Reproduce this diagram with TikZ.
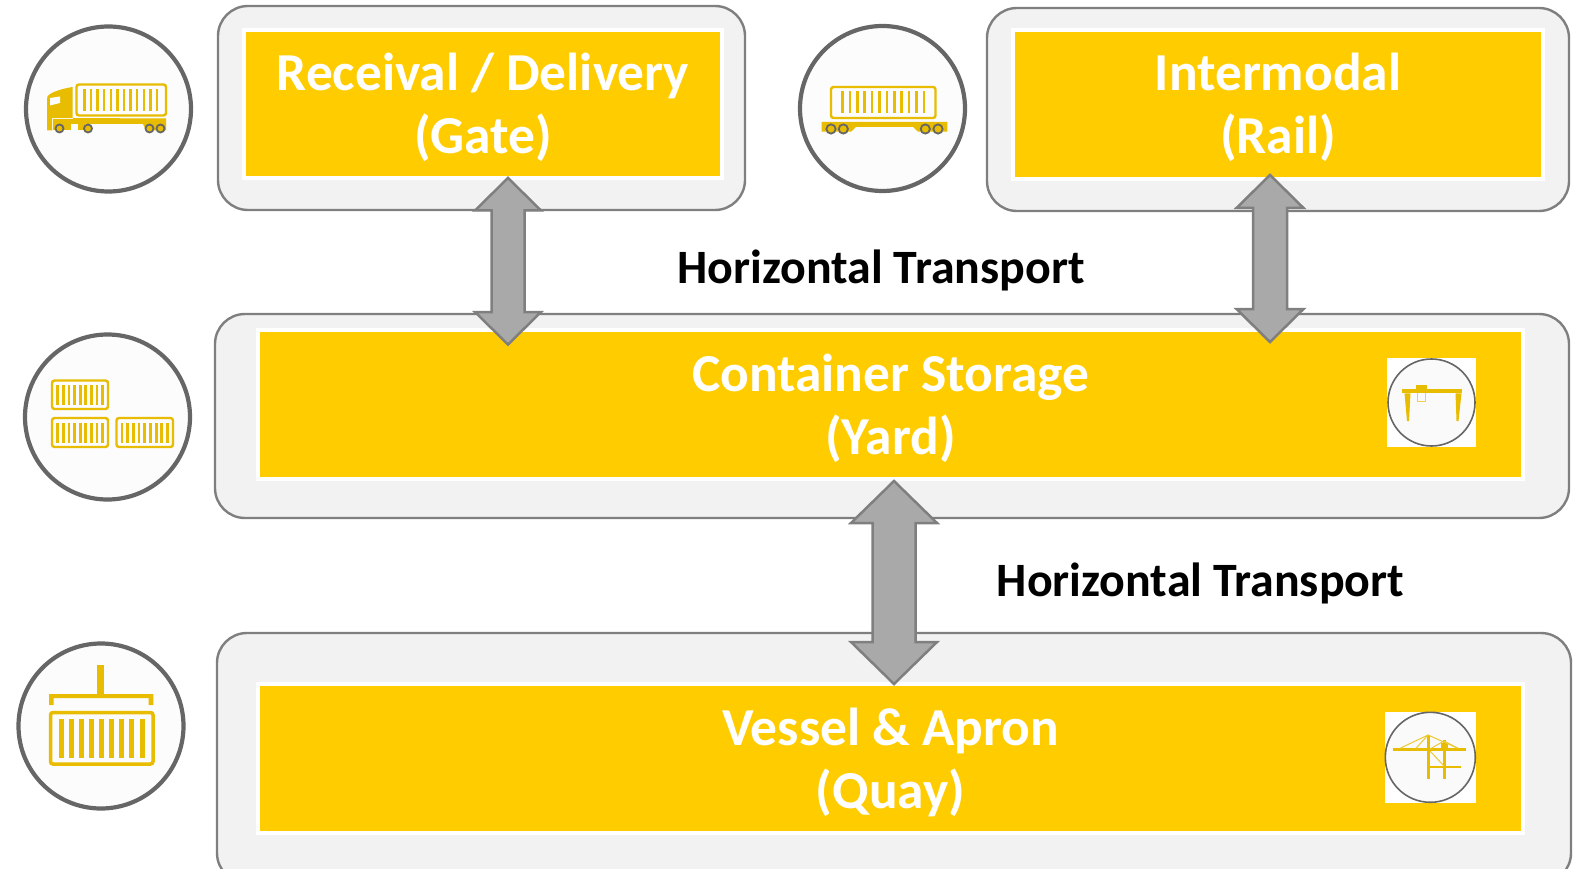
\documentclass[tikz,border=0pt]{standalone}
\usepackage{fontspec}
\setmainfont{Carlito}
\usetikzlibrary{calc}
\definecolor{ylw}{HTML}{FFCC00}
\definecolor{icony}{HTML}{E8BC00}
\definecolor{ringc}{HTML}{666666}
\definecolor{outerc}{HTML}{7F7F7F}
\definecolor{outerf}{HTML}{F2F2F2}
\definecolor{arrowf}{HTML}{A9A9A9}
\newcommand{\contbox}[9]{% x1 y1 x2 y2 n firstbar lastbar inset barw
  \draw[icony,line width=\contlw,rounded corners=2.5pt] (#1,#2) rectangle (#3,#4);
  \pgfmathsetmacro{\cstep}{(#7-#6)/(#5-1)}
  \foreach \ci in {1,...,#5}{
    \pgfmathsetmacro{\cx}{#6+(\ci-1)*\cstep}
    \fill[icony] (\cx-#9/2,#2+#8) rectangle (\cx+#9/2,#4-#8);
  }}
\newcommand{\contlw}{2.4pt}
\newcommand{\boxline}[1]{\raisebox{-18pt}[0pt][0pt]{#1}}
\tikzset{
  x=1pt,y=-1pt,
  outerbox/.style={draw=outerc,fill=outerf,line width=2.4pt,rounded corners=30pt,inner sep=0pt},
  yellowbox/.style={draw=white,fill=ylw,line width=4pt,inner sep=0pt,text=white,align=center,
    font=\fontsize{53.4}{63}\selectfont\bfseries},
  ring/.style={draw=ringc,fill=white!99!black,line width=4.2pt,circle,inner sep=0pt,minimum size=165pt},
  miniring/.style={draw=ringc,fill=white!98!black,line width=1.6pt,circle,inner sep=0pt},
  label/.style={text=black,inner sep=0pt,font=\fontsize{47.9}{54}\selectfont\bfseries},
  wheel/.style={draw=ringc,fill=icony,line width=1.8pt},
  bigarrow/.style n args={3}{draw=outerc,fill=arrowf,line width=2.5pt,miter limit=10,
    to path={let \p1=(\tikztostart),\p2=(\tikztotarget) in
      (\x1,\y1) -- (\x1+#1,\y1-#3) -- (\x1+#2,\y1-#3) -- (\x1+#2,\y2+#3) -- (\x1+#1,\y2+#3)
      -- (\x2,\y2) -- (\x1-#1,\y2+#3) -- (\x1-#2,\y2+#3) -- (\x1-#2,\y1-#3) -- (\x1-#1,\y1-#3) -- cycle}},
}
\begin{document}
\begin{tikzpicture}
\useasboundingbox (0,0) rectangle (1575,869);
\clip (0,0) rectangle (1575,869);
% outer panels
\node[outerbox,minimum width=527pt,minimum height=204pt] (gateO) at (481.5,108) {};
\node[outerbox,minimum width=582pt,minimum height=203pt] (railO) at (1278,109.5) {};
\node[outerbox,minimum width=1354pt,minimum height=204pt] (yardO) at (892,416) {};
\node[outerbox,minimum width=1354pt,minimum height=250pt] (quayO) at (894,758) {};
% yellow boxes
\node[yellowbox,minimum width=478pt,minimum height=148pt] (gate) at (483,104) {\boxline{Receival / Delivery}\\\boxline{(Gate)}};
\node[yellowbox,minimum width=529.5pt,minimum height=149pt] (rail) at (1278,104.5) {\boxline{Intermodal}\\\boxline{(Rail)}};
\node[yellowbox,minimum width=1265pt,minimum height=148.5pt] (yard) at (890.5,404.7) {\boxline{Container Storage}\\\boxline{(Yard)}};
\node[yellowbox,minimum width=1265pt,minimum height=149pt] (quay) at (890.5,758.5) {\boxline{Vessel \& Apron}\\\boxline{(Quay)}};
% double arrows
\coordinate (a1t) at (508,178); \coordinate (a1b) at (508,344.5);
\coordinate (a2t) at (1270,175); \coordinate (a2b) at (1270,342);
\coordinate (a3t) at (894,481); \coordinate (a3b) at (894,684);
\draw[bigarrow={33pt}{16.5pt}{32.5pt}] (a1t) to (a1b);
\draw[bigarrow={33.5pt}{17pt}{33pt}] (a2t) to (a2b);
\draw[bigarrow={43pt}{21.5pt}{42pt}] (a3t) to (a3b);
% labels
\node[label] (ht1) at (881,270) {Horizontal Transport};
\node[label] (ht2) at (1200.5,583.5) {Horizontal Transport};
% rings
\node[ring] (r1) at (108.5,109) {};
\node[ring] (r2) at (882.5,108.5) {};
\node[ring] (r3) at (107.5,417) {};
\node[ring] (r4) at (101,726) {};
% truck
\contbox{76.5}{84.5}{166}{115.5}{12}{84.5}{157}{4.5}{2.4}
\fill[icony] (47,130.5) -- (47,99) .. controls (47,95) and (50,94) .. (54,92) .. controls (60,89.5) and (66,88) .. (72.7,87) -- (72.7,118) -- (166,118.5) -- (166,124) -- (52.5,124) -- (52.5,130.5) -- cycle;
\fill[icony] (143,124) -- (166,124) -- (166,130.5) -- (146,130.5) -- cycle;
\fill[icony] (52,124) -- (71,124) -- (71,130.5) -- (52,130.5) -- cycle;
\fill[icony] (78,124) -- (85,124) -- (85,130.5) -- (78,130.5) -- cycle;
\draw[white!85!icony,line width=.8pt] (52.5,130) -- (52.5,118.5) -- (72.7,118.5);
\fill[white] (50,98) -- (60,96.5) -- (60,103) -- (50,105.5) -- cycle;
\foreach \wx in {59.5,88,149.5,160.5} \draw[wheel] (\wx,128.5) circle (4pt);
% wagon
\contbox{831}{87}{935.5}{118}{12}{842.5}{924}{4.5}{2.6}
\fill[icony] (821.7,122) -- (947.3,122) -- (947.3,131.7) -- (918,131.7) -- (913,127) -- (856,127) -- (851,131.7) -- (821.7,131.7) -- cycle;
\foreach \wx in {831,843.3,925.3,938} \draw[wheel] (\wx,129) circle (4.6pt);
% stacked containers
\contbox{52}{380.5}{108}{409}{9}{57.7}{102.7}{4.5}{2.8}
\contbox{52}{418}{108}{447}{9}{57.7}{102.7}{4.5}{2.8}
\contbox{116.5}{418}{173}{447}{9}{122}{167.5}{4.5}{2.8}
% spreader
\fill[icony] (96.7,665) rectangle (104.3,694);
\fill[icony] (49,694) -- (153.3,694) -- (153.3,705) -- (148.5,705) -- (148.5,698) -- (53.7,698) -- (53.7,705) -- (49,705) -- cycle;
\renewcommand{\contlw}{3.5pt}
\contbox{50.5}{712.5}{153}{764}{9}{61.3}{142}{6.5}{5}
\renewcommand{\contlw}{2.4pt}
% yard crane
\fill[white] (1387,358) rectangle (1476,447);
\node[miniring,minimum size=87pt] (c1) at (1431.5,402.5) {};
\fill[icony] (1401.7,389.3) rectangle (1462.3,393.3);
\fill[icony] (1404.5,393.3) -- (1410.5,393.3) -- (1409,421) -- (1407,421) -- cycle;
\fill[icony] (1455.5,393.3) -- (1461.5,393.3) -- (1458.5,421) -- (1456.5,421) -- cycle;
\fill[icony] (1416.3,384.5) rectangle (1427,389.3);
\draw[icony!70!white,line width=1pt] (1417.5,393.3) -- (1417.5,401) -- (1425.5,401) -- (1425.5,393.3);
% quay crane
\fill[white] (1385,712) rectangle (1476,803);
\node[miniring,minimum size=90pt] (c2) at (1430.3,757.3) {};
\fill[icony] (1392.7,748.3) rectangle (1465.7,751.3);
\fill[icony] (1426.5,735) rectangle (1429.5,778.5);
\fill[icony] (1443,740) rectangle (1445.5,778.5);
\fill[icony] (1428,765.5) rectangle (1461,768);
\fill[icony] (1441,743) rectangle (1447.5,751);
\draw[icony!80!white,line width=1pt] (1400,748.3) -- (1428,735) -- (1458,748.3);
\draw[icony!80!white,line width=1pt] (1416,748.3) -- (1428,735);
\draw[icony!80!white,line width=1pt] (1430,749) -- (1444,741) -- (1458,748.3);
\draw[icony!80!white,line width=1pt] (1430,751) -- (1444,766);
\end{tikzpicture}
\end{document}
